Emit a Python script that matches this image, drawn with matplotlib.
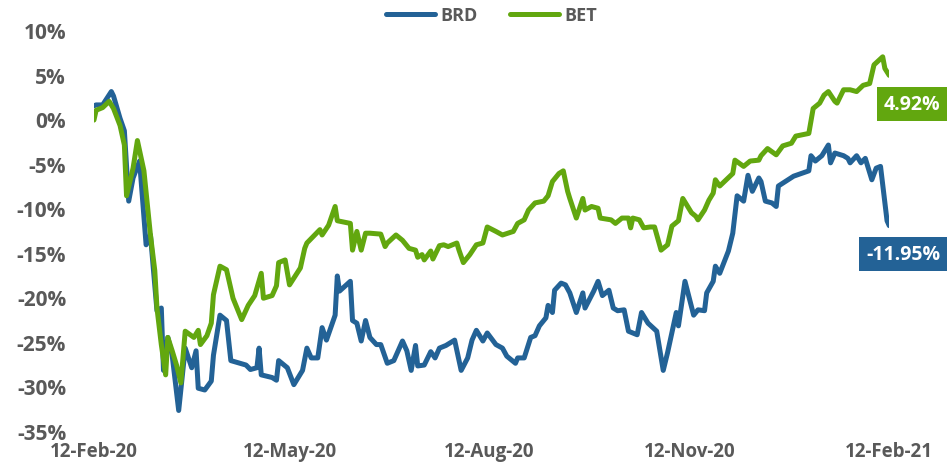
import matplotlib.pyplot as plt
import matplotlib.dates as mdates
import matplotlib.transforms as mtransforms
import pandas as pd

start = pd.Timestamp("2020-02-12")

# BRD: days from 12-Feb-20, change in %
brd_days = [0, 1, 4, 8, 9, 12, 14, 16, 18, 21, 24, 26, 29, 31, 32, 34, 36, 39, 42, 45,
            47, 48, 51, 54, 55, 58, 61, 63, 70, 72, 75, 76, 77, 82, 84, 85, 89, 92, 96, 98,
            100, 103, 105, 107, 111, 112, 113, 118, 119, 121, 123, 125, 127, 130, 132, 135,
            138, 142, 144, 146, 148, 149, 152, 155, 157, 159, 162, 166, 169, 172, 174, 176,
            179, 181, 185, 188, 190, 194, 195, 198, 201, 203, 205, 208, 209, 211, 212, 215,
            217, 219, 222, 225, 226, 230, 232, 234, 237, 239, 241, 244, 246, 250, 252, 255,
            259, 262, 264, 268, 269, 272, 276, 278, 281, 282, 285, 286, 288, 292, 294, 296,
            299, 301, 303, 306, 307, 309, 312, 314, 315, 322, 329, 330, 332, 335, 338, 339,
            341, 345, 347, 348, 351, 353, 355, 358, 360, 362, 365, 366]
brd_vals = [1.5, 1.6, 1.6, 3.1, 2.6, 0.1, -1.3, -9.2, -6.6, -4.7, -14.1, -13.0, -21.5, -21.2,
            -28.2, -24.5, -26.5, -32.7, -25.7, -27.9, -26.0, -30.2, -30.4, -29.4, -26.5, -22.0,
            -22.6, -27.1, -27.6, -28.1, -27.9, -25.7, -28.7, -29.0, -29.3, -27.1, -27.9, -29.8,
            -28.2, -25.7, -26.8, -26.8, -23.4, -24.8, -22.0, -17.6, -19.3, -18.2, -22.6, -22.9,
            -24.9, -22.6, -24.5, -25.3, -25.3, -27.4, -27.1, -24.9, -26.0, -28.2, -25.4, -27.7,
            -27.6, -26.1, -26.8, -25.7, -25.4, -24.8, -28.2, -26.8, -24.8, -23.7, -24.9, -24.0,
            -25.3, -25.7, -26.6, -27.4, -26.8, -26.8, -24.5, -24.3, -23.2, -22.3, -20.9, -21.7,
            -19.2, -18.4, -18.6, -19.5, -21.7, -19.5, -21.2, -19.3, -18.2, -19.8, -19.2, -21.2,
            -21.5, -21.4, -23.8, -24.2, -21.7, -22.9, -23.8, -28.2, -26.2, -21.7, -23.2, -18.2,
            -22.0, -21.4, -21.5, -19.5, -18.2, -16.5, -17.3, -14.8, -12.8, -8.6, -9.2, -6.3,
            -8.1, -6.6, -7.0, -9.2, -9.4, -9.8, -7.5, -6.4, -5.8, -4.1, -4.7, -4.1, -2.9, -4.9,
            -3.8, -4.1, -4.4, -4.9, -4.1, -4.9, -4.4, -6.8, -5.5, -5.3, -11.4, -11.95]

# BET
bet_days = [0, 1, 4, 7, 9, 12, 14, 15, 18, 20, 23, 26, 28, 29, 31, 33, 34, 36, 38, 40, 42,
            46, 48, 49, 52, 54, 55, 58, 61, 64, 68, 71, 74, 77, 78, 82, 84, 85, 88, 90, 95,
            97, 98, 104, 105, 108, 111, 112, 118, 119, 121, 123, 125, 127, 132, 134, 135, 139,
            142, 145, 148, 149, 151, 152, 155, 156, 159, 161, 163, 167, 168, 170, 173, 176,
            179, 181, 185, 188, 193, 195, 198, 200, 203, 207, 209, 211, 214, 216, 218, 219,
            222, 225, 226, 229, 232, 233, 238, 240, 243, 246, 247, 248, 251, 253, 256, 258,
            261, 264, 266, 269, 271, 275, 277, 278, 281, 283, 285, 286, 288, 294, 295, 299,
            302, 306, 307, 310, 314, 317, 321, 323, 329, 331, 334, 336, 338, 341, 342, 345,
            348, 351, 354, 357, 359, 363, 364, 366]
bet_vals = [-0.1, 1.0, 1.3, 2.0, 1.2, -0.7, -2.9, -8.6, -5.5, -2.4, -5.8, -13.0, -17.0, -21.2,
            -25.3, -28.7, -24.5, -26.0, -27.6, -29.6, -23.8, -24.5, -23.7, -25.3, -24.3, -22.9,
            -19.7, -16.5, -16.9, -20.1, -22.5, -20.9, -19.8, -17.3, -20.1, -19.8, -18.7, -16.1,
            -15.8, -18.6, -16.7, -14.5, -13.9, -12.4, -13.0, -11.9, -9.8, -11.4, -11.7, -14.7,
            -12.6, -14.7, -12.8, -12.8, -12.9, -14.3, -13.9, -13.0, -13.6, -14.5, -14.7, -15.5,
            -15.2, -15.8, -14.8, -15.7, -14.2, -14.1, -14.3, -13.9, -14.7, -16.1, -15.2, -14.1,
            -13.9, -12.1, -12.6, -13.0, -12.6, -11.7, -11.3, -10.2, -9.4, -9.2, -8.6, -7.0,
            -6.1, -5.8, -8.1, -8.9, -11.1, -8.9, -10.2, -9.8, -10.0, -11.1, -11.3, -11.7, -11.1,
            -11.1, -12.2, -11.1, -11.3, -12.2, -12.1, -12.1, -14.7, -14.1, -12.0, -11.4, -8.9,
            -10.5, -10.9, -11.3, -10.2, -9.1, -8.3, -6.8, -7.5, -6.1, -4.6, -5.3, -4.7, -4.6,
            -4.1, -3.3, -4.0, -3.0, -2.7, -1.9, -1.6, 1.2, 1.8, 2.7, 3.1, 2.0, 1.8, 3.3, 3.3,
            3.1, 3.8, 4.0, 6.1, 7.0, 5.7, 4.92]

tick_days = [0, 90, 182, 274, 366]
yticks = [10, 5, 0, -5, -10, -15, -20, -25, -30, -35]

blue = "#236296"
green = "#62a70f"
grey = "#595959"

brd_dates = [start + pd.Timedelta(days=d) for d in brd_days]
bet_dates = [start + pd.Timedelta(days=d) for d in bet_days]

plt.rcParams["font.family"] = ["Open Sans", "DejaVu Sans"]
fig = plt.figure(figsize=(9.49, 4.64), dpi=100)
ax = fig.add_axes([0.099, 0.069, 0.838, 0.864])

ax.plot(brd_dates, brd_vals, color=blue, lw=3.6, label="BRD", solid_joinstyle="round",
        solid_capstyle="round")
ax.plot(bet_dates, bet_vals, color=green, lw=3.6, label="BET", solid_joinstyle="round",
        solid_capstyle="round")

ax.set_ylim(-35, 10)
ax.set_xlim(start, start + pd.Timedelta(days=366))
ax.set_yticks(yticks)
ax.set_yticklabels(["%d%%" % v for v in yticks], fontsize=15, fontweight="bold", color=grey)
ax.set_xticks([start + pd.Timedelta(days=d) for d in tick_days])
ax.xaxis.set_major_formatter(mdates.DateFormatter("%d-%b-%y"))
for t in ax.get_xticklabels():
    t.set_fontsize(13.5)
    t.set_fontweight("bold")
    t.set_color(grey)
ax.tick_params(length=0, pad=20, axis="y")
ax.tick_params(length=0, pad=7, axis="x")
for s in ax.spines.values():
    s.set_visible(False)

leg = ax.legend(loc="upper center", bbox_to_anchor=(0.5, 1.1), ncol=2, frameon=False,
                prop={"weight": "bold", "size": 13}, handlelength=2.7, columnspacing=1.8,
                handletextpad=0.3)
for t in leg.get_texts():
    t.set_color(grey)

trans = mtransforms.blended_transform_factory(ax.transAxes, ax.transData)
ax.text(1.064, bet_vals[-1] - 3.25, "%.2f%%" % bet_vals[-1], transform=trans,
        ha="right", va="center", color="white", fontsize=14, fontweight="bold",
        bbox=dict(boxstyle="square,pad=0.35", fc=green, ec="none"))
ax.text(1.064, brd_vals[-1] - 3.2, "%.2f%%" % brd_vals[-1], transform=trans,
        ha="right", va="center", color="white", fontsize=14, fontweight="bold",
        bbox=dict(boxstyle="square,pad=0.35", fc=blue, ec="none"))

fig.savefig("out.png", dpi=100)
